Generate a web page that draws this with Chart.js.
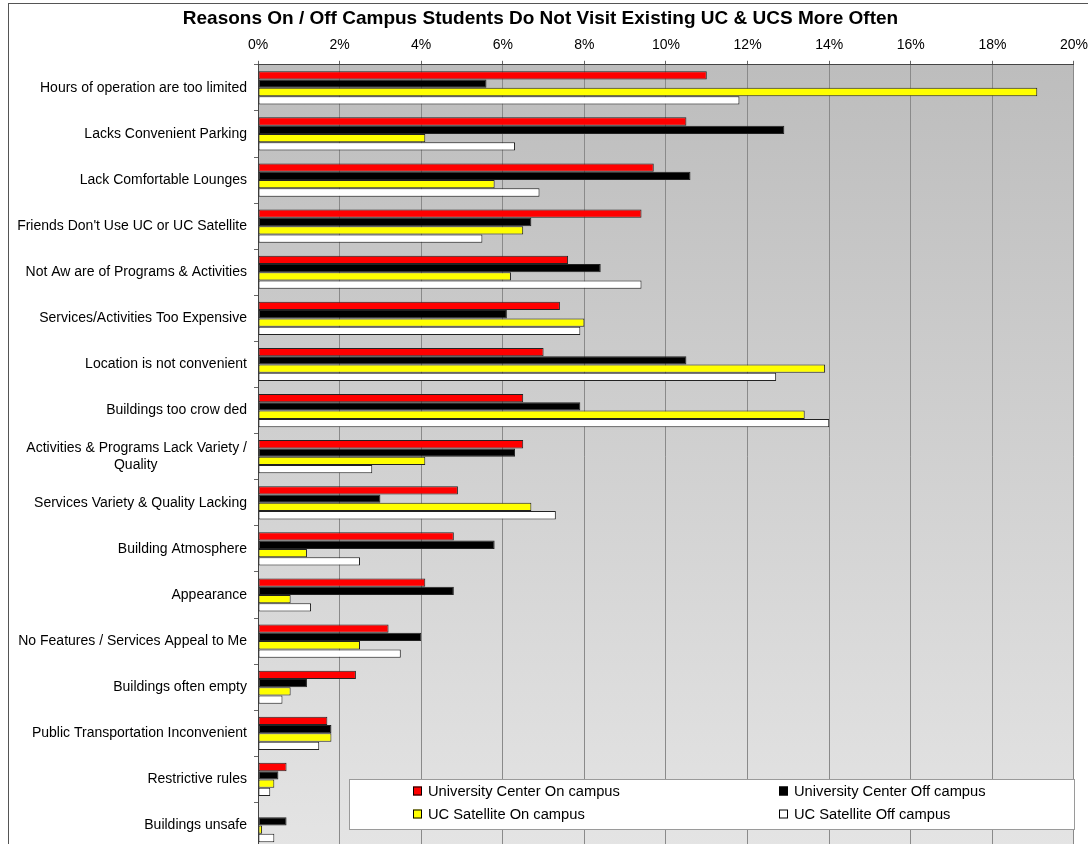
<!DOCTYPE html>
<html>
<head>
<meta charset="utf-8">
<script src="https://cdn.jsdelivr.net/npm/chart.js@4.4.1/dist/chart.umd.min.js"></script>
<style>
  html, body { margin: 0; padding: 0; background: #fff; overflow: hidden; }
  #wrap { position: relative; width: 1088px; height: 844px; overflow: hidden; }
  #frame { position: absolute; left: 8px; top: 3px; width: 1200px; height: 1000px; border: 1px solid #555; box-sizing: border-box; pointer-events: none; }
</style>
</head>
<body>
<div id="wrap">
  <canvas id="chart" width="1095" height="864"></canvas>
  <div id="frame"></div>
</div>
<script>
// Datos del gráfico
const categories = [
    'Hours of operation are too limited',
    'Lacks Convenient Parking',
    'Lack Comfortable Lounges',
    "Friends Don't Use UC or UC Satellite",
    'Not Aw are of Programs & Activities',
    'Services/Activities Too Expensive',
    'Location is not convenient',
    'Buildings too crow ded',
    ['Activities & Programs Lack Variety /', 'Quality                       '],
    'Services Variety & Quality Lacking',
    'Building Atmosphere',
    'Appearance',
    'No Features / Services Appeal to Me',
    'Buildings often empty',
    'Public Transportation Inconvenient',
    'Restrictive rules',
    'Buildings unsafe'
];

const seriesNames = [
    'University Center On campus',
    'University Center Off campus',
    'UC Satellite On campus',
    'UC Satellite Off campus'
];

const ucOnCampus  = [11.0, 10.5, 9.7, 9.4, 7.6, 7.4, 7.0, 6.5, 6.5, 4.9, 4.8, 4.1, 3.2, 2.4, 1.7, 0.7, 0];
const ucOffCampus = [5.6, 12.9, 10.6, 6.7, 8.4, 6.1, 10.5, 7.9, 6.3, 3.0, 5.8, 4.8, 4.0, 1.2, 1.8, 0.5, 0.7];
const satOnCampus = [19.1, 4.1, 5.8, 6.5, 6.2, 8.0, 13.9, 13.4, 4.1, 6.7, 1.2, 0.8, 2.5, 0.8, 1.8, 0.4, 0.1];
const satOffCampus = [11.8, 6.3, 6.9, 5.5, 9.4, 7.9, 12.7, 14.0, 2.8, 7.3, 2.5, 1.3, 3.5, 0.6, 1.5, 0.3, 0.4];

const xTicks = [0, 2, 4, 6, 8, 10, 12, 14, 16, 18, 20];

const seriesColors = ['#ff0000', '#000000', '#ffff00', '#ffffff'];

const FONT = '"Liberation Sans", Arial, sans-serif';

// ===== FONDO DEGRADADO =====
const plotBackground = {
    id: 'plotBackground',
    beforeDraw(chart) {
        const { ctx, chartArea: a } = chart;
        const g = ctx.createLinearGradient(0, a.top, 0, a.bottom);
        g.addColorStop(0, '#bdbdbd');
        g.addColorStop(1, '#e4e4e4');
        ctx.save();
        ctx.fillStyle = g;
        ctx.fillRect(a.left, a.top, a.right - a.left, a.bottom - a.top);
        ctx.restore();
    }
};

// ===== LEYENDA DENTRO DEL GRÁFICO =====
const insideLegend = {
    id: 'insideLegend',
    afterDraw(chart) {
        const { ctx } = chart;
        const box = { x: 349, y: 779, w: 725, h: 50 };
        ctx.save();
        ctx.fillStyle = '#ffffff';
        ctx.fillRect(box.x, box.y, box.w, box.h);
        ctx.strokeStyle = '#9a9a9a';
        ctx.lineWidth = 1;
        ctx.strokeRect(box.x + 0.5, box.y + 0.5, box.w, box.h);

        const cols = [413, 779];
        const rows = [791, 814];
        ctx.font = '14.7px ' + FONT;
        ctx.textBaseline = 'middle';
        ctx.textAlign = 'left';
        chart.data.datasets.forEach((ds, i) => {
            const x = cols[i % 2];
            const y = rows[Math.floor(i / 2)];
            ctx.fillStyle = ds.backgroundColor;
            ctx.fillRect(x, y - 4.5, 9, 9);
            ctx.strokeStyle = '#000';
            ctx.strokeRect(x + 0.5, y - 4.5 + 0.5, 8, 8);
            ctx.fillStyle = '#000';
            ctx.fillText(ds.label, x + 15, y + 1);
        });
        ctx.restore();
    }
};

const seriesData = [ucOnCampus, ucOffCampus, satOnCampus, satOffCampus];

new Chart(document.getElementById('chart'), {
    type: 'bar',
    data: {
        labels: categories,
        datasets: seriesNames.map((name, i) => ({
            label: name,
            data: seriesData[i],
            backgroundColor: seriesColors[i],
            borderColor: '#222',
            borderWidth: 1,
            borderSkipped: false,
            categoryPercentage: 0.72,
            barPercentage: 1.0
        }))
    },
    options: {
        indexAxis: 'y',
        responsive: false,
        animation: false,
        layout: { padding: { left: 0, right: 14, top: 0, bottom: 0 } },
        plugins: {
            legend: { display: false },
            tooltip: { enabled: false },
            title: {
                display: true,
                text: 'Reasons On / Off Campus Students Do Not Visit Existing UC & UCS More Often',
                color: '#000',
                font: { family: FONT, size: 19, weight: 'bold' },
                padding: { top: 7, bottom: 7 }
            }
        },
        scales: {
            x: {
                position: 'top',
                min: 0,
                max: 20,
                afterBuildTicks(scale) {
                    scale.ticks = xTicks.map(v => ({ value: v }));
                },
                afterFit(scale) { scale.height = 28; },
                ticks: {
                    color: '#000',
                    font: { family: FONT, size: 14 },
                    padding: 7,
                    callback: v => v + '%'
                },
                grid: { color: '#8a8a8a', tickLength: 4, tickColor: '#666' },
                border: { color: '#444' }
            },
            y: {
                afterFit(scale) { scale.width = 258; },
                ticks: {
                    color: '#000',
                    font: { family: FONT, size: 14 },
                    padding: 7,
                    crossAlign: 'near'
                },
                grid: { offset: true, drawOnChartArea: false, tickLength: 4, color: '#666' },
                border: { color: '#444' }
            }
        }
    },
    plugins: [plotBackground, insideLegend]
});
</script>
</body>
</html>
